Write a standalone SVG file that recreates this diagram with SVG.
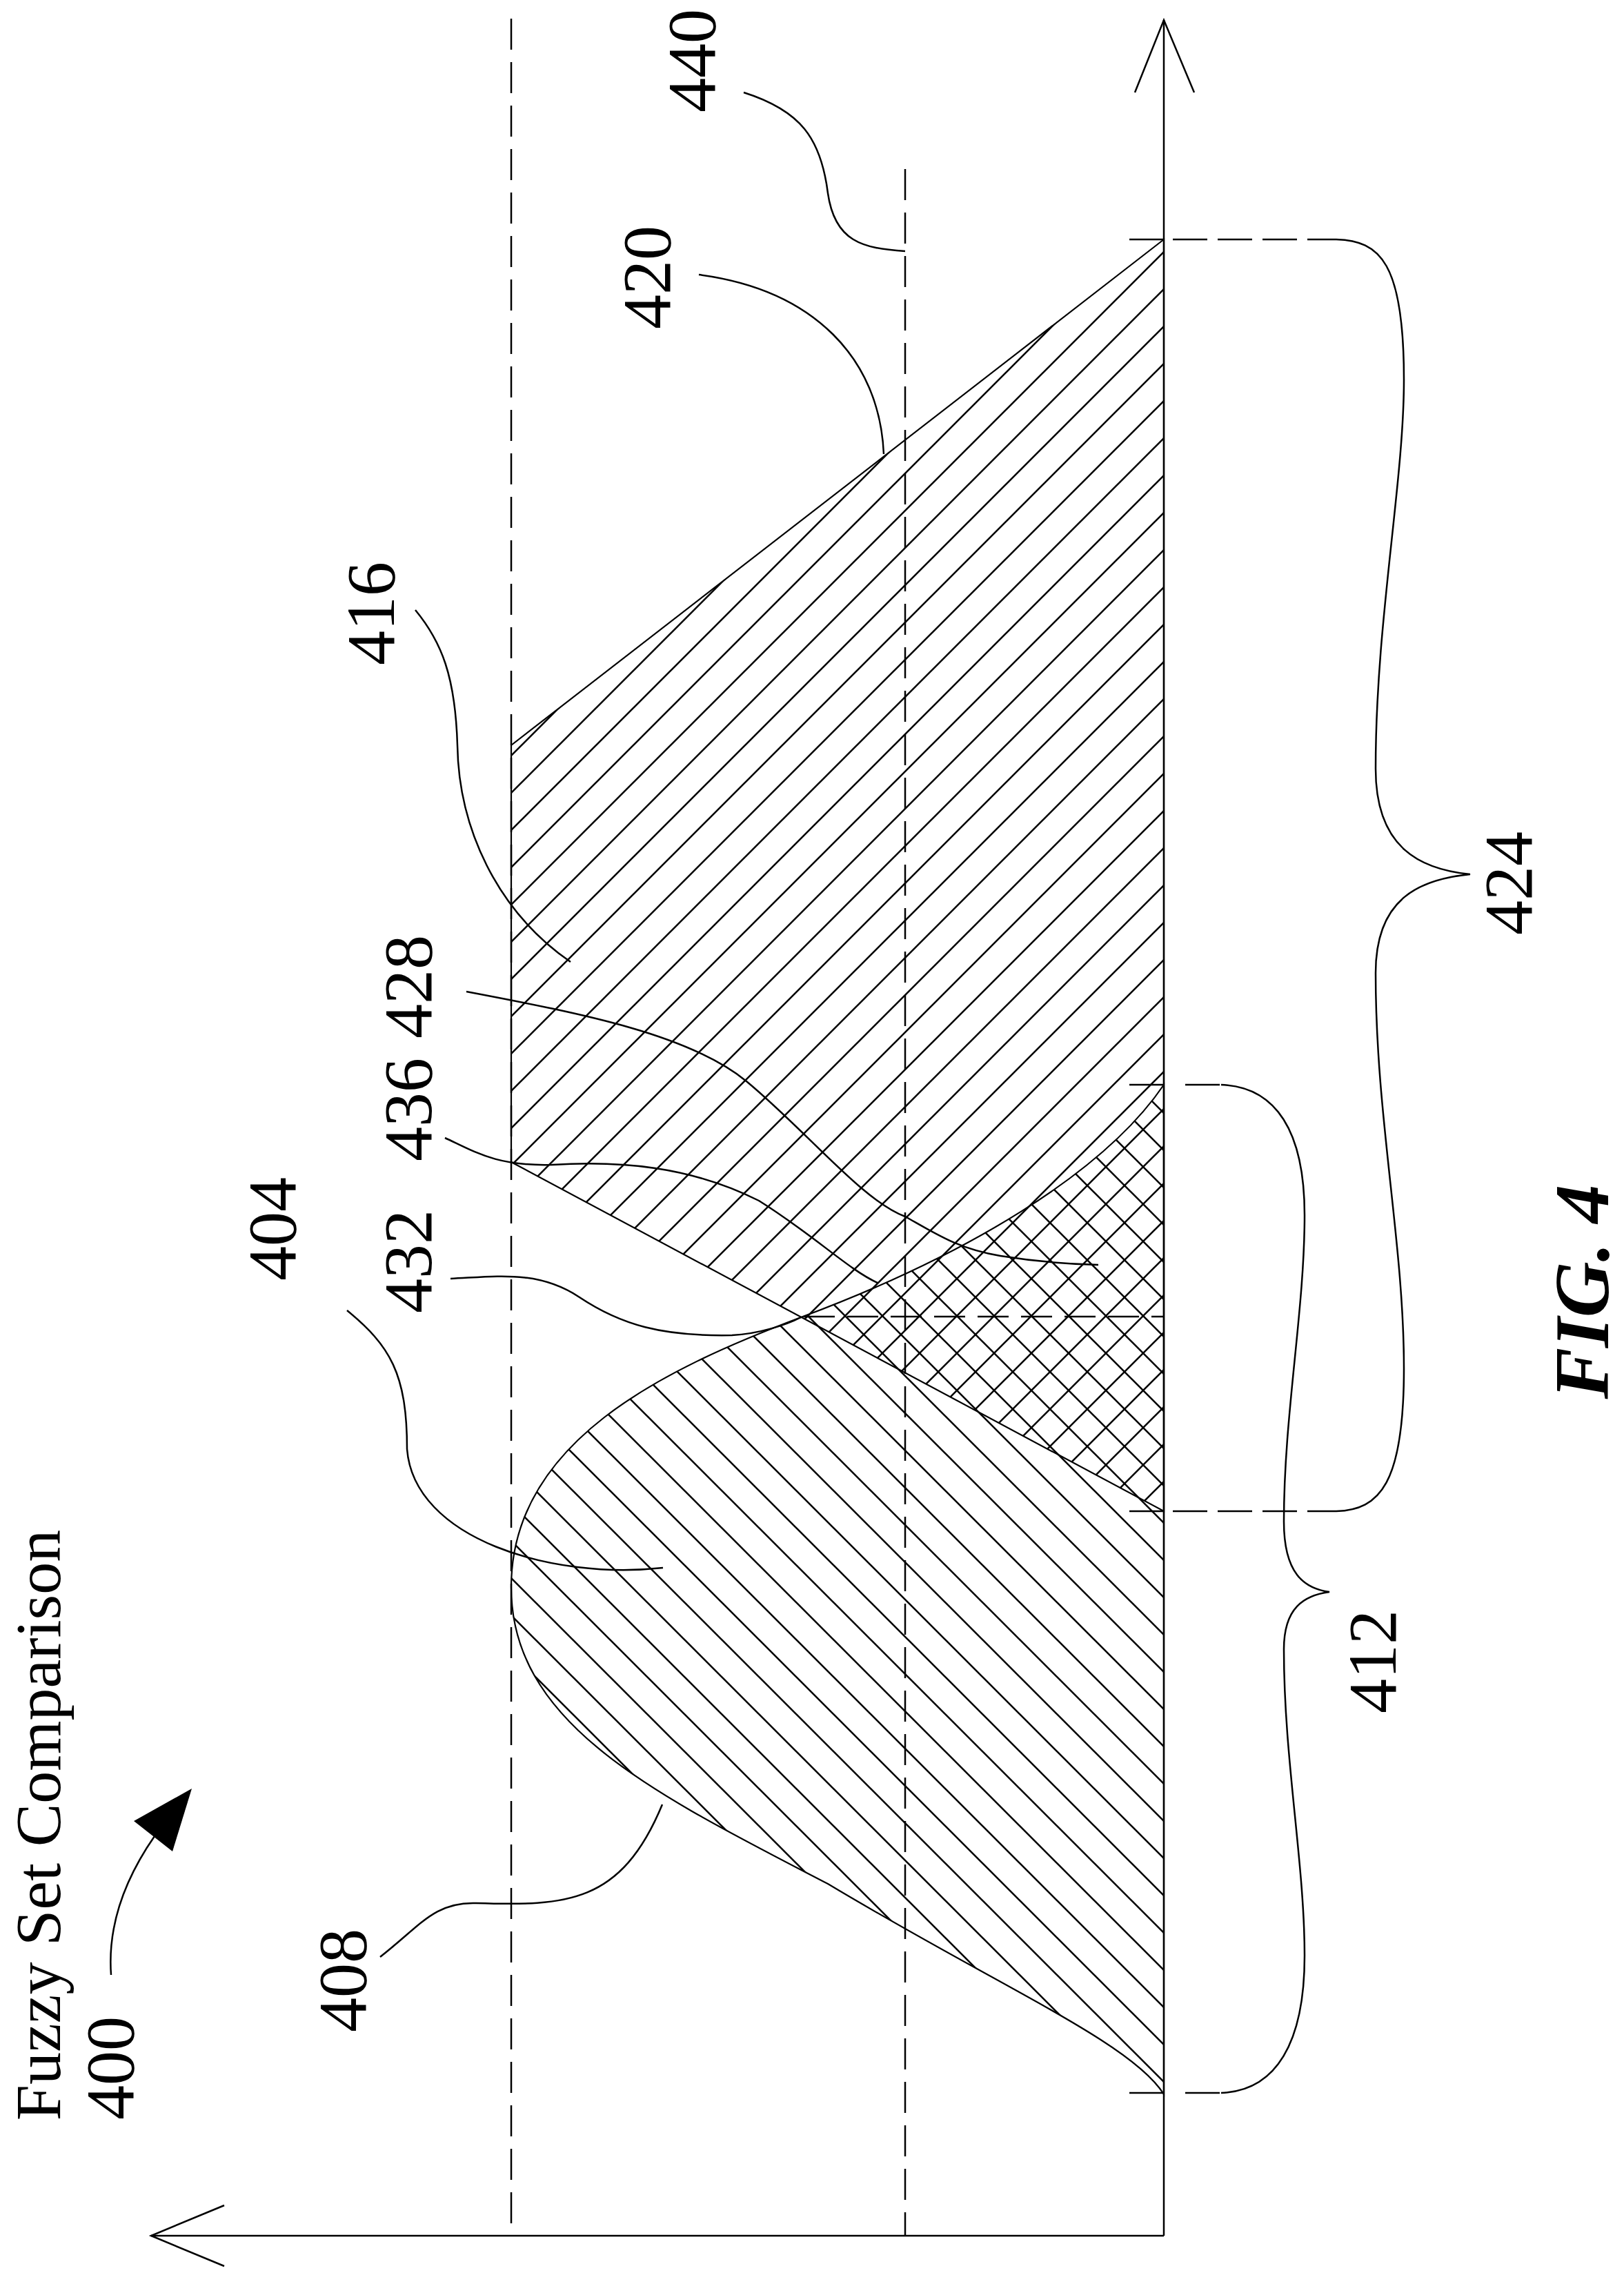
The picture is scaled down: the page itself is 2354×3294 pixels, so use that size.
<svg xmlns="http://www.w3.org/2000/svg" width="2354" height="3294" viewBox="0 0 2354 3294">
<style>
.ln{fill:none;stroke:#000;stroke-width:2.5}
.dash{fill:none;stroke:#000;stroke-width:2.5;stroke-dasharray:45 18}
.tick{fill:none;stroke:#000;stroke-width:2.5;stroke-dasharray:50 15}
.t{font-family:"Liberation Serif",serif;font-size:100px;fill:#000;text-anchor:middle}
</style>
<defs>
<pattern id="hR" patternUnits="userSpaceOnUse" width="54" height="54">
<path d="M-5,59 L59,-5 M-5,5 L5,-5 M49,59 L59,49" stroke="#000" stroke-width="2.6"/>
</pattern>
<pattern id="hL" patternUnits="userSpaceOnUse" width="54" height="54" x="20">
<path d="M-5,-5 L59,59 M-5,49 L5,59 M49,-5 L59,5" stroke="#000" stroke-width="2.6"/>
</pattern>
</defs>
<rect width="2354" height="3294" fill="#fff"/>
<g id="guides">
<line class="dash" x1="741" y1="27" x2="741" y2="3240"/>
<line class="dash" x1="1312" y1="245" x2="1312" y2="3240"/>
</g>
<g id="set416">
<path d="M1687,347 L741,1080 L741,1684 L1687,2190 Z" fill="url(#hR)" stroke="#000" stroke-width="2.2"/>
</g>
<g id="set404">
<path d="M1687,1572 C1600,1700 1400,1820 1161,1909 C960,1985 741,2090 741,2300 C741,2500 950,2600 1200,2730 C1450,2880 1640,2960 1687,3035 Z" fill="url(#hL)" stroke="#000" stroke-width="2.2"/>
<line class="dash" x1="1165" y1="1908" x2="1687" y2="1908"/>
</g>
<g id="axes">
<line class="ln" x1="1687" y1="29" x2="1687" y2="3240"/>
<line class="ln" x1="219" y1="3240" x2="1687" y2="3240"/>
<path class="ln" d="M1645,134 L1687,29 L1731,134"/>
<path class="ln" d="M325,3196 L219,3240 L325,3284"/>
</g>
<g id="brace424">
<line class="ln" x1="1637" y1="347" x2="1687" y2="347"/>
<line class="tick" x1="1700" y1="347" x2="1937" y2="347"/>
<line class="ln" x1="1637" y1="2190" x2="1687" y2="2190"/>
<line class="tick" x1="1700" y1="2190" x2="1937" y2="2190"/>
<path class="ln" d="M1937,347 C2000,349 2035,380 2035,550 C2035,700 1994,900 1994,1114 C1994,1230 2060,1260 2131,1267 C2060,1274 1994,1300 1994,1410 C1994,1620 2035,1800 2035,1983 C2035,2150 2000,2188 1937,2190"/>
<text class="t" transform="translate(2220,1280) rotate(-90)">424</text>
</g>
<g id="brace412">
<line class="ln" x1="1637" y1="1572" x2="1687" y2="1572"/>
<line class="tick" x1="1718" y1="1572" x2="1770" y2="1572"/>
<line class="ln" x1="1637" y1="3033" x2="1687" y2="3033"/>
<line class="tick" x1="1718" y1="3033" x2="1770" y2="3033"/>
<path class="ln" d="M1770,1572 C1850,1575 1891,1640 1891,1761 C1891,1900 1861,2050 1861,2205 C1861,2280 1890,2302 1927,2307 C1890,2312 1861,2330 1861,2390 C1861,2550 1891,2700 1891,2834 C1891,2960 1850,3030 1770,3033"/>
<text class="t" transform="translate(2023,2408) rotate(-90)">412</text>
</g>
<g id="connectors">
<path class="ln" d="M1078,134 C1160,160 1190,200 1200,280 C1210,350 1250,360 1312,364"/>
<path class="ln" d="M1013,398 C1180,420 1275,520 1281,658"/>
<path class="ln" d="M602,884 C640,930 660,980 663,1080 C665,1200 720,1320 827,1394"/>
<path class="ln" d="M676,1437 C850,1470 1000,1500 1082,1567 C1170,1640 1250,1740 1312,1763 C1360,1790 1390,1810 1450,1820 C1500,1828 1550,1832 1592,1833"/>
<path class="ln" d="M645,1649 C690,1670 720,1690 800,1688 C900,1682 1000,1690 1100,1740 C1180,1790 1230,1840 1272,1859"/>
<path class="ln" d="M653,1853 C720,1850 780,1840 840,1880 C900,1920 960,1937 1061,1935 C1100,1933 1140,1920 1161,1909"/>
<path class="ln" d="M503,1899 C565,1950 590,1990 590,2100 C600,2230 800,2290 961,2272"/>
<path class="ln" d="M551,2836 C610,2790 630,2756 690,2758 C820,2762 900,2760 960,2615"/>
<path class="ln" d="M161,2862 C155,2780 190,2710 224,2661"/>
<path d="M194,2639 L278,2592 L250,2683 Z" fill="#000"/>
</g>
<g id="labels">
<text class="t" transform="translate(1036,88) rotate(-90)">440</text>
<text class="t" transform="translate(971,402) rotate(-90)">420</text>
<text class="t" transform="translate(571,889) rotate(-90)">416</text>
<text class="t" transform="translate(625,1430) rotate(-90)">428</text>
<text class="t" transform="translate(625,1608) rotate(-90)">436</text>
<text class="t" transform="translate(625,1828) rotate(-90)">432</text>
<text class="t" transform="translate(428,1781) rotate(-90)">404</text>
<text class="t" transform="translate(530,2870) rotate(-90)">408</text>
<text class="t" transform="translate(193,2997) rotate(-90)">400</text>
<text class="t" style="font-size:94px" transform="translate(87,2645) rotate(-90)">Fuzzy Set Comparison</text>
<text class="t" style="font-size:112px;font-weight:bold;font-style:italic" transform="translate(2331,1872) rotate(-90)">FIG. 4</text>
</g>
</svg>
